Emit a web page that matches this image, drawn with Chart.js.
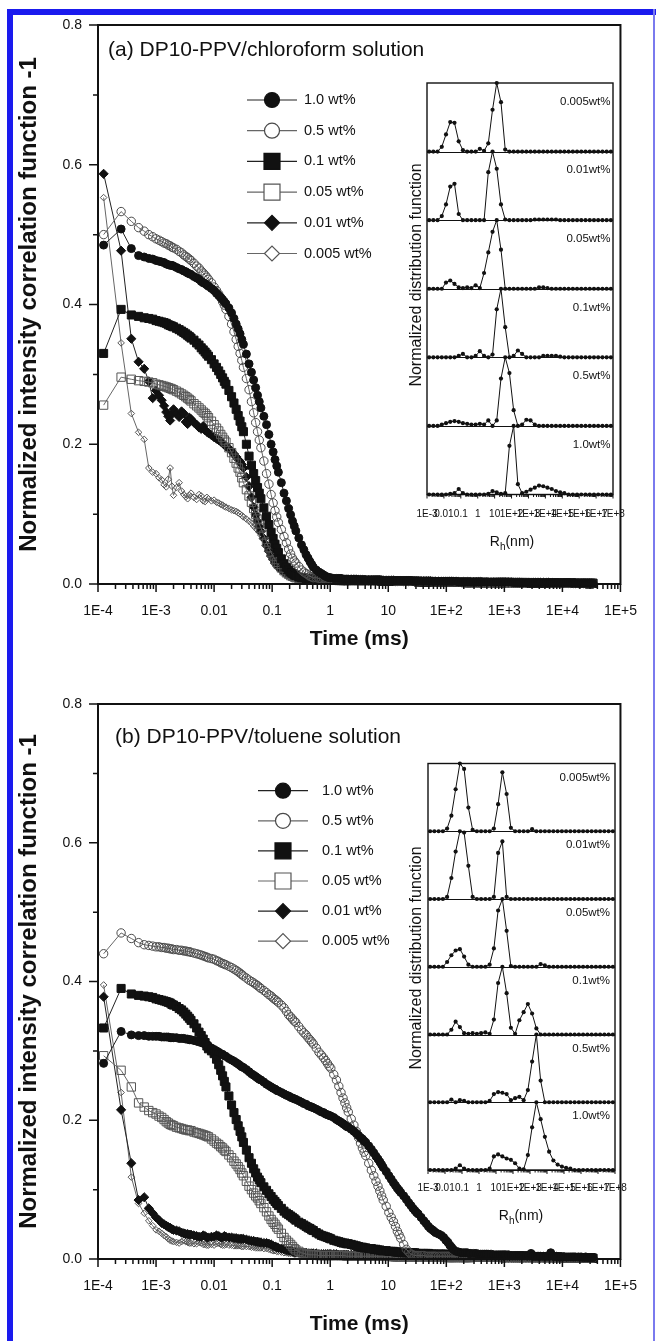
<!DOCTYPE html>
<html><head><meta charset="utf-8">
<script src="https://cdn.jsdelivr.net/npm/chart.js@4.4.1/dist/chart.umd.min.js"></script>
<style>
html,body{margin:0;padding:0;background:#fff;}
#page{position:relative;width:656px;height:1341px;overflow:hidden;background:#fff;}
.abs{position:absolute;}
</style></head>
<body><div id="page">
<div class="abs" style="left:7px;top:9px;width:6px;height:1332px;background:#1a1aee"></div>
<div class="abs" style="left:7px;top:9px;width:649px;height:6px;background:#1a1aee"></div>
<div class="abs" style="left:653px;top:9px;width:2px;height:1332px;background:#7a7aee"></div>
<canvas id="cA" class="abs" style="left:0;top:0"></canvas>
<canvas id="cB" class="abs" style="left:0;top:660px"></canvas>
<canvas id="iA" class="abs" style="left:380px;top:60px"></canvas>
<canvas id="iB" class="abs" style="left:380px;top:740px"></canvas>
</div>
<script>
// ---------------- data ----------------
// correlator lag times (ms): 16 linear channels, then 8 channels per octave
const TIME_MS = [1.25e-4,2.5e-4,3.75e-4,5e-4,6.25e-4,7.5e-4,8.75e-4,1e-3,1.125e-3,1.25e-3,1.375e-3,1.5e-3,1.625e-3,1.75e-3,1.875e-3,2e-3,
2.25e-3,2.5e-3,2.75e-3,3e-3,3.25e-3,3.5e-3,3.75e-3,4e-3,
4.5e-3,5e-3,5.5e-3,6e-3,6.5e-3,7e-3,7.5e-3,8e-3,
9e-3,.01,.011,.012,.013,.014,.015,.016,
.018,.02,.022,.024,.026,.028,.030,.032,
.036,.040,.044,.048,.052,.056,.060,.064,
.072,.080,.088,.096,.104,.112,.120,.128,
.144,.160,.176,.192,.208,.224,.240,.256,
.288,.320,.352,.384,.416,.448,.480,.512,
.576,.640,.704,.768,.832,.896,.960,1.024,
1.152,1.28,1.408,1.536,1.664,1.792,1.92,2.048,
2.304,2.56,2.816,3.072,3.328,3.584,3.84,4.096,
4.608,5.12,5.632,6.144,6.656,7.168,7.68,8.192,
9.216,10.24,11.26,12.29,13.31,14.34,15.36,16.38,
18.43,20.48,22.53,24.58,26.62,28.67,30.72,32.77,
36.86,40.96,45.06,49.15,53.25,57.34,61.44,65.54,
73.73,81.92,90.11,98.3,106.5,114.7,122.9,131.1,
147.5,163.8,180.2,196.6,213,229.4,245.8,262.1,
294.9,327.7,360.4,393.2,426,458.8,491.5,524.3,
589.8,655.4,720.9,786.4,851.9,917.5,983,1049,
1180,1311,1442,1573,1704,1835,1966,2097,
2359,2621,2884,3146,3408,3670,3932,4194,
4719,5243,5767,6291,6816,7340,7864,8389,
9437,10486,11534,12583,13631,14680,15729,16777,
18874,20972,23069,25166,27263,29360,31457,33554];

const SERIES_LABELS = ['1.0 wt%','0.5 wt%','0.1 wt%','0.05 wt%','0.01 wt%','0.005 wt%'];

// ---- (a) chloroform: long-time baselines (2.3 ms .. 33.5 s)
const TAIL_A1 = [.007,.007,.007,.006,.006,.006,.006,.006, .006,.006,.006,.006,.006,.006,.005,.005,
.005,.005,.005,.005,.005,.005,.005,.005, .005,.005,.005,.005,.004,.004,.004,.004,
.004,.004,.004,.004,.004,.004,.004,.004, .004,.004,.004,.004,.004,.004,.004,.004,
.004,.003,.003,.003,.003,.003,.003,.003, .003,.003,.003,.003,.003,.003,.003,.003,
.003,.003,.003,.003,.003,.003,.003,.003, .003,.003,.002,.002,.002,.002,.002,.002,
.002,.002,.002,.002,.002,.002,.002,.002, .002,.002,.002,.002,.002,.002,.002,.002,
.002,.002,.002,.002,.002,.001,.002,.001, .001,.001,.001,.001,.001,.001,.001,.001];
const TAIL_A2 = [.006,.006,.006,.006,.006,.006,.006,.005, .005,.005,.005,.005,.005,.005,.005,.005,
.005,.005,.005,.005,.004,.004,.004,.004, .004,.004,.004,.004,.004,.004,.004,.004,
.004,.004,.004,.004,.004,.003,.003,.003, .003,.003,.003,.003,.003,.003,.003,.003,
.003,.003,.003,.003,.003,.003,.003,.003, .003,.003,.003,.003,.002,.002,.002,.002,
.002,.002,.002,.002,.002,.002,.002,.002, .002,.002,.002,.002,.002,.002,.002,.002,
.002,.002,.002,.002,.002,.002,.002,.002, .002,.002,.002,.001,.002,.001,.001,.001,
.001,.001,.001,.001,.001,.001,.001,.001, .001,.001,.001,.001,.001,.001,.001,.001];
const TAIL_A3 = [.005,.005,.005,.005,.005,.005,.005,.005, .005,.005,.005,.005,.005,.005,.004,.004,
.004,.004,.004,.004,.004,.004,.004,.004, .004,.004,.004,.004,.004,.004,.004,.003,
.003,.003,.003,.003,.003,.003,.003,.003, .003,.003,.003,.003,.003,.003,.003,.003,
.003,.003,.003,.003,.002,.002,.002,.002, .002,.002,.002,.002,.002,.002,.002,.002,
.002,.002,.002,.002,.002,.002,.002,.002, .002,.002,.002,.002,.002,.002,.002,.002,
.002,.002,.001,.001,.001,.001,.001,.001, .001,.001,.001,.001,.001,.001,.001,.001,
.001,.001,.001,.001,.001,.001,.001,.001, .001,.001,.001,.001,.001,.000,.001,.001];

const A_10 = [.485,.508,.480,.470,.468,.466,.465,.463,.462,.461,.460,.458,.457,.456,.456,.455,
.453,.451,.450,.448,.447,.445,.444,.443,
.440,.438,.436,.433,.431,.430,.428,.426,
.423,.420,.416,.413,.410,.407,.404,.401,
.395,.388,.380,.372,.365,.358,.350,.343,
.329,.315,.303,.292,.281,.270,.261,.252,
.240,.228,.214,.200,.189,.178,.169,.160,
.145,.130,.119,.108,.099,.090,.083,.076,
.066,.056,.049,.042,.037,.032,.028,.024,
.020,.017,.015,.013,.011,.010,.009,.009,
.008,.008,.008,.008,.007,.007,.007,.007, ...TAIL_A1];
const A_05 = [.500,.533,.519,.510,.505,.500,.497,.494,.492,.490,.488,.487,.485,.484,.482,.481,
.479,.476,.474,.471,.469,.467,.465,.463,
.459,.455,.452,.448,.445,.442,.439,.436,
.431,.425,.420,.415,.410,.404,.399,.393,
.383,.372,.361,.350,.340,.330,.320,.310,
.294,.278,.261,.245,.231,.218,.206,.195,
.176,.158,.143,.128,.116,.105,.096,.088,
.078,.068,.059,.050,.043,.037,.033,.030,
.025,.020,.017,.015,.013,.011,.010,.009,
.009,.008,.008,.008,.007,.007,.007,.007,
.007,.007,.007,.007,.006,.006,.006,.006, ...TAIL_A2];
const A_01 = [.330,.393,.385,.383,.381,.380,.379,.377,.376,.375,.374,.373,.371,.370,.369,.368,
.366,.364,.362,.360,.358,.356,.354,.352,
.349,.345,.342,.338,.335,.332,.329,.326,
.321,.315,.310,.305,.300,.295,.290,.286,
.277,.268,.259,.250,.241,.233,.225,.218,
.200,.183,.170,.158,.148,.138,.130,.122,
.109,.097,.085,.074,.065,.057,.051,.045,
.036,.029,.024,.020,.017,.015,.013,.012,
.010,.009,.009,.008,.008,.007,.007,.007,
.007,.007,.006,.006,.006,.006,.006,.006,
.006,.006,.006,.006,.005,.005,.005,.005, ...TAIL_A3];
const A_005 = [.256,.296,.293,.291,.290,.289,.288,.286,.285,.284,.283,.282,.281,.280,.279,.278,
.276,.274,.272,.270,.268,.266,.264,.262,
.258,.255,.252,.249,.246,.244,.241,.238,
.233,.228,.223,.219,.214,.210,.206,.203,
.195,.188,.180,.173,.166,.160,.152,.145,
.135,.126,.117,.108,.100,.093,.086,.080,
.070,.060,.052,.045,.040,.035,.031,.028,
.023,.019,.016,.014,.012,.011,.010,.009,
.008,.008,.008,.007,.007,.007,.007,.007,
.007,.006,.006,.006,.006,.006,.006,.006,
.006,.006,.005,.005,.005,.005,.005,.005, ...TAIL_A3];
const A_001 = [.587,.477,.351,.318,.308,.290,.266,.277,.270,.263,.255,.246,.240,.234,.243,.250,
.244,.239,.247,.244,.232,.229,.238,.236,
.231,.228,.224,.222,.226,.220,.218,.216,
.213,.210,.208,.206,.204,.202,.199,.197,
.194,.190,.186,.182,.178,.175,.171,.166,
.153,.140,.124,.110,.099,.090,.082,.075,
.065,.055,.047,.040,.035,.030,.027,.024,
.020,.017,.015,.013,.012,.011,.010,.009,
.009,.008,.008,.008,.007,.007,.007,.007,
.007,.007,.006,.006,.006,.006,.006,.006,
.006,.006,.006,.006,.005,.005,.005,.005, ...TAIL_A2];
const A_0005 = [.553,.345,.244,.217,.207,.166,.160,.158,.152,.149,.142,.139,.150,.166,.140,.127,
.138,.145,.133,.128,.125,.122,.127,.130,
.124,.121,.128,.126,.119,.118,.124,.122,
.119,.120,.117,.116,.114,.113,.111,.110,
.108,.106,.105,.104,.102,.100,.098,.096,
.093,.090,.087,.083,.080,.077,.074,.070,
.064,.057,.051,.046,.041,.036,.033,.030,
.025,.020,.017,.014,.012,.011,.010,.009,
.009,.008,.008,.008,.007,.007,.007,.007,
.007,.006,.006,.006,.006,.006,.006,.006,
.006,.006,.006,.006,.006,.006,.005,.005, ...TAIL_A1];

// ---- (b) toluene: long-time baselines (295 ms .. 33.5 s)
const TAIL_B1 = [.008,.008,.007,.007,.007,.007,.007,.007,
.007,.006,.006,.006,.006,.006,.006,.006,
.006,.005,.005,.005,.005,.005,.005,.005,
.005,.005,.008,.004,.004,.004,.004,.004,
.004,.004,.004,.009,.004,.004,.004,.003,
.003,.003,.003,.003,.003,.003,.003,.003,
.003,.003,.002,.003,.002,.002,.002,.002];
const TAIL_B2 = [.005,.005,.005,.005,.005,.005,.005,.005,
.005,.005,.004,.004,.004,.004,.004,.004,
.004,.004,.004,.004,.004,.004,.004,.004,
.004,.003,.003,.003,.003,.003,.003,.003,
.003,.003,.003,.003,.003,.003,.003,.003,
.003,.002,.002,.002,.002,.002,.002,.002,
.002,.002,.002,.002,.002,.002,.002,.001];
const TAIL_B3 = [.003,.003,.003,.003,.003,.003,.003,.003,
.003,.003,.003,.003,.003,.002,.002,.002,
.002,.002,.002,.002,.002,.002,.002,.002,
.002,.002,.002,.002,.002,.002,.002,.002,
.002,.002,.002,.002,.002,.002,.002,.002,
.002,.002,.001,.001,.001,.001,.001,.001,
.001,.001,.001,.001,.001,.001,.001,.001];

const B_10 = [.282,.328,.323,.322,.322,.321,.321,.321,.321,.320,.320,.320,.320,.319,.319,.319,
.319,.318,.318,.318,.317,.317,.316,.316,
.315,.314,.313,.312,.311,.310,.309,.307,
.304,.302,.300,.298,.296,.295,.293,.292,
.289,.287,.285,.283,.281,.279,.277,.276,
.273,.270,.267,.265,.263,.261,.259,.258,
.255,.252,.250,.248,.246,.245,.243,.242,
.240,.238,.236,.235,.233,.232,.231,.230,
.228,.226,.224,.223,.221,.220,.219,.218,
.216,.214,.212,.211,.209,.208,.207,.206,
.204,.201,.199,.197,.195,.193,.191,.190,
.187,.184,.181,.178,.175,.173,.170,.168,
.163,.158,.153,.148,.144,.140,.136,.132,
.126,.120,.115,.110,.106,.102,.099,.096,
.091,.086,.081,.077,.073,.070,.067,.065,
.060,.055,.051,.047,.044,.042,.040,.038,
.036,.034,.031,.027,.024,.020,.017,.014,
.011,.010,.009,.009,.009,.009,.008,.008, ...TAIL_B1];
const B_05 = [.440,.470,.462,.456,.453,.452,.451,.450,.450,.449,.449,.448,.448,.447,.447,.446,
.446,.445,.445,.444,.444,.443,.443,.442,
.441,.440,.439,.438,.437,.436,.435,.434,
.433,.432,.430,.429,.427,.426,.425,.424,
.422,.420,.418,.416,.414,.412,.410,.408,
.405,.402,.400,.398,.396,.394,.392,.390,
.387,.384,.381,.379,.376,.374,.372,.370,
.366,.362,.357,.352,.349,.346,.343,.341,
.335,.330,.326,.323,.319,.316,.313,.310,
.304,.298,.294,.290,.286,.282,.278,.275,
.266,.258,.249,.240,.232,.225,.218,.212,
.202,.193,.184,.175,.167,.160,.154,.149,
.138,.128,.120,.112,.105,.098,.091,.085,
.076,.067,.060,.054,.047,.040,.035,.030,
.021,.014,.010,.007,.006,.005,.005,.005,
.005,.005,.004,.004,.004,.004,.004,.004,
.004,.004,.004,.004,.004,.004,.004,.004,
.004,.004,.004,.004,.003,.003,.003,.003, ...TAIL_B3];
const B_01 = [.333,.390,.382,.380,.379,.378,.377,.375,.374,.373,.372,.371,.370,.369,.367,.366,
.364,.361,.359,.356,.353,.350,.347,.344,
.339,.333,.327,.322,.317,.312,.307,.303,
.300,.296,.288,.280,.272,.264,.256,.248,
.235,.222,.211,.201,.192,.184,.176,.168,
.157,.146,.138,.130,.124,.118,.114,.110,
.104,.099,.094,.090,.086,.083,.080,.077,
.073,.069,.066,.064,.062,.060,.058,.056,
.053,.051,.049,.047,.045,.044,.042,.041,
.038,.036,.034,.033,.032,.031,.030,.029,
.027,.026,.025,.024,.023,.023,.022,.022,
.021,.020,.019,.018,.017,.017,.016,.016,
.015,.015,.014,.014,.013,.013,.012,.012,
.012,.011,.011,.011,.010,.010,.010,.010,
.009,.009,.009,.009,.009,.009,.008,.008,
.008,.008,.008,.008,.007,.007,.007,.007,
.007,.007,.007,.007,.006,.006,.006,.006,
.006,.006,.006,.006,.006,.006,.005,.005, ...TAIL_B2];
const B_005 = [.293,.272,.248,.225,.219,.214,.211,.209,.206,.204,.201,.198,.196,.194,.193,.192,
.190,.189,.188,.187,.186,.186,.185,.185,
.183,.182,.181,.180,.179,.178,.177,.176,
.173,.170,.167,.165,.162,.160,.157,.155,
.150,.146,.141,.137,.133,.129,.124,.120,
.112,.105,.100,.095,.091,.088,.084,.080,
.074,.068,.062,.057,.053,.050,.046,.043,
.037,.031,.027,.024,.021,.018,.015,.013,
.011,.009,.008,.007,.007,.006,.006,.006,
.006,.005,.005,.005,.005,.005,.005,.005,
.005,.005,.005,.005,.005,.005,.004,.004,
.004,.004,.004,.004,.004,.004,.004,.004,
.004,.004,.004,.004,.004,.004,.004,.004,
.004,.004,.004,.003,.003,.003,.003,.003,
.003,.003,.003,.003,.003,.003,.003,.003,
.003,.003,.003,.003,.003,.003,.003,.003,
.003,.003,.003,.003,.002,.002,.002,.002,
.002,.002,.002,.002,.002,.002,.002,.002, ...TAIL_B3];
const B_001 = [.378,.215,.138,.085,.089,.073,.066,.060,.056,.052,.050,.048,.046,.045,.043,.042,
.041,.040,.038,.037,.036,.036,.035,.035,
.034,.033,.032,.032,.034,.033,.031,.031,
.032,.032,.034,.033,.031,.031,.033,.032,
.031,.031,.030,.030,.029,.029,.029,.029,
.028,.027,.026,.026,.025,.025,.024,.024,
.023,.023,.022,.021,.019,.018,.017,.016,
.015,.014,.013,.012,.012,.011,.010,.010,
.010,.009,.009,.009,.008,.008,.008,.008,
.008,.007,.007,.007,.007,.007,.007,.007,
.007,.007,.006,.006,.006,.006,.006,.006,
.006,.006,.006,.006,.006,.006,.006,.005,
.005,.005,.005,.005,.005,.005,.005,.005,
.005,.005,.005,.005,.005,.005,.005,.005,
.005,.005,.004,.004,.004,.004,.004,.004,
.004,.004,.004,.004,.004,.004,.004,.004,
.004,.004,.004,.004,.004,.004,.004,.004,
.004,.004,.004,.003,.003,.003,.003,.003, ...TAIL_B3];
const B_0005 = [.395,.240,.118,.080,.066,.055,.048,.042,.040,.037,.034,.032,.029,.027,.026,.025,
.024,.023,.025,.027,.025,.024,.023,.023,
.022,.022,.024,.023,.021,.021,.020,.020,
.021,.020,.022,.023,.021,.020,.020,.021,
.020,.020,.019,.019,.019,.019,.018,.018,
.018,.018,.017,.017,.016,.016,.016,.016,
.015,.015,.014,.013,.012,.012,.011,.011,
.010,.009,.009,.008,.008,.008,.007,.007,
.007,.007,.006,.006,.006,.006,.006,.006,
.006,.006,.005,.005,.005,.005,.005,.005,
.005,.005,.005,.005,.005,.005,.005,.005,
.005,.005,.004,.004,.004,.004,.004,.004,
.004,.004,.004,.004,.004,.004,.004,.004,
.004,.004,.004,.004,.004,.004,.003,.003,
.003,.003,.003,.003,.003,.003,.003,.003,
.003,.003,.003,.003,.003,.003,.003,.003,
.003,.003,.003,.003,.003,.003,.003,.003,
.003,.003,.003,.003,.003,.003,.003,.003, ...TAIL_B3];

const X_TICK_VALUES = [1e-4,1e-3,1e-2,1e-1,1,10,100,1e3,1e4,1e5];
const X_TICK_LABELS = ['1E-4','1E-3','0.01','0.1','1','10','1E+2','1E+3','1E+4','1E+5'];
const Y_TICK_VALUES = [0,0.1,0.2,0.3,0.4,0.5,0.6,0.7,0.8];
const Y_TICK_LABELS = ['0.0','','0.2','','0.4','','0.6','','0.8'];

// insets: hydrodynamic radius grid (nm) and normalized distributions
const RH_NM = [0.00133,0.00237,0.00422,0.0075,
0.0133,0.0237,0.0422,0.075,
0.133,0.237,0.422,0.75,
1.33,2.37,4.22,7.5,
13.3,23.7,42.2,75,
133,237,422,750,
1330,2370,4220,7500,
13300,23700,42200,75000,
1.33e5,2.37e5,4.22e5,7.5e5,
1.33e6,2.37e6,4.22e6,7.5e6,
1.33e7,2.37e7,4.22e7,7.5e7];
const RH_TICK_VALUES = [1e-3,1e-2,1e-1,1,10,100,1e3,1e4,1e5,1e6,1e7,1e8];
const RH_TICK_LABELS = ['1E-3','0.01','0.1','1','10','1E+2','1E+3','1E+4','1E+5','1E+6','1E+7','1E+8'];
const INSET_LABELS = ['0.005wt%','0.01wt%','0.05wt%','0.1wt%','0.5wt%','1.0wt%'];

const IA_0005 = [0,0,0,.07, .25,.43,.42,.15, .02,0,0,0, .04,.01,.12,.61, 1,.72,.03,0, 0,0,0,0, 0,0,0,0, 0,0,0,0, 0,0,0,0, 0,0,0,0, 0,0,0,0];
const IA_001  = [0,0,0,.06, .23,.49,.53,.09, 0,0,0,0, 0,0,.7,1, .75,.23,.01,0, 0,0,0,0, 0,.01,.01,.01, .01,.01,.01,0, 0,0,0,0, 0,0,0,0, 0,0,0,0];
const IA_005  = [0,0,0,0, .09,.12,.07,.02, .01,.02,.01,.05, .01,.23,.53,.83, 1,.57,0,0, 0,0,0,0, 0,0,.02,.02, .01,0,0,0, 0,0,0,0, 0,0,0,0, 0,0,0,0];
const IA_01   = [0,0,0,0, 0,0,0,.02, .05,0,0,.02, .09,.02,0,.04, .7,1,.44,0, .02,.1,.05,0, 0,0,0,.02, .02,.02,.02,.01, 0,0,0,0, 0,0,0,0, 0,0,0,0];
const IA_05   = [0,0,0,.02, .04,.06,.07,.06, .04,.03,.02,.02, .03,.02,.08,0, .08,.69,1,.77, .23,0,.02,.09, .08,.02,0,0, 0,0,0,0, 0,0,0,0, 0,0,0,0, 0,0,0,0];
const IA_10   = [0,0,0,0, 0,.01,.02,.08, .02,0,0,0, 0,0,.01,.05, .03,.01,.02,.71, 1,.15,.02,.04, .07,.1,.13,.12, .1,.08,.05,.03, .02,0,0,0, 0,0,0,0, 0,0,0,0];

const IB_0005 = [0,0,0,0, .04,.23,.62,1, .92,.35,.02,0, 0,0,0,.04, .4,.87,.55,.05, 0,0,0,0, .03,0,0,0, 0,0,0,0, 0,0,0,0, 0,0,0,0, 0,0,0,0];
const IB_001  = [0,0,0,0, .03,.31,.7,1, .98,.49,.03,0, 0,0,0,.03, .68,.85,.03,0, 0,0,0,0, 0,0,0,0, 0,0,0,0, 0,0,0,0, 0,0,0,0, 0,0,0,0];
const IB_005  = [0,0,0,0, .07,.17,.24,.26, .15,.03,0,0, 0,0,.03,.27, .83,1,.53,.01, 0,0,0,0, 0,0,.04,.02, 0,0,0,0, 0,0,0,0, 0,0,0,0, 0,0,0,0];
const IB_01   = [0,0,0,0, 0,.07,.19,.11, .02,.01,.02,.01, .02,.03,.01,.22, .76,1,.61,.1, .01,.21,.33,.45, .31,.09,0,0, 0,0,0,0, 0,0,0,0, 0,0,0,0, 0,0,0,0];
const IB_05   = [0,0,0,0, 0,.04,0,.03, .02,0,0,0, 0,0,.02,.12, .15,.14,.12,.03, .06,.08,.03,.18, .6,1,.32,0, 0,0,0,0, 0,0,0,0, 0,0,0,0, 0,0,0,0];
const IB_10   = [0,0,0,0, 0,0,.02,.07, .02,0,0,0, 0,0,.02,.2, .23,.2,.17,.15, .1,.02,.01,.22, .63,1,.75,.49, .27,.14,.08,.05, .03,.02,0,0, 0,0,0,0, 0,0,0,0];

// ---------------- rendering ----------------
const FONT = "'Liberation Sans', Arial, Helvetica, sans-serif";
Chart.defaults.font.family = FONT;
Chart.defaults.color = '#111';

const MARK = [
  {style:'circle',  r:4,   lr:7.5,  fill:'#111', stroke:'#111', line:'#222', leg:'#111'},
  {style:'circle',  r:4.2, lr:7.5,  fill:'rgba(0,0,0,0)', stroke:'#4a4a4a', line:'#666', leg:'#fff'},
  {style:'rect',    r:5.7, lr:11.3, fill:'#111', stroke:'#111', line:'#222', leg:'#111'},
  {style:'rect',    r:5.9, lr:11.3, fill:'rgba(0,0,0,0)', stroke:'#555', line:'#666', leg:'#fff'},
  {style:'rectRot', r:4.6, lr:7.5,  fill:'#111', stroke:'#111', line:'#222', leg:'#111'},
  {style:'rectRot', r:3.3, lr:7.5,  fill:'rgba(0,0,0,0)', stroke:'#555', line:'#666', leg:'#fff'}
];

function lbl(values, labels, v) {
  for (let i = 0; i < values.length; i++) {
    if (Math.abs(v - values[i]) <= 1e-9 + Math.abs(values[i]) * 1e-6) return labels[i];
  }
  return '';
}
function logTicks(majors) {
  const out = [];
  for (let i = 0; i < majors.length; i++) {
    out.push(majors[i]);
    if (i < majors.length - 1) for (let m = 2; m <= 9; m++) out.push(majors[i] * m);
  }
  return out;
}
const X_ALL = logTicks(X_TICK_VALUES);
const RH_ALL = logTicks(RH_TICK_VALUES);

function drawMarker(ctx, style, r, x, y) {
  if (Chart.helpers && Chart.helpers.drawPoint) {
    Chart.helpers.drawPoint(ctx, {pointStyle: style, radius: r, rotation: 0, borderWidth: 1.2}, x, y);
    return;
  }
  ctx.beginPath();
  if (style === 'circle') ctx.arc(x, y, r, 0, Math.PI * 2);
  else if (style === 'rect') { const s = r * Math.SQRT1_2; ctx.rect(x - s, y - s, 2 * s, 2 * s); }
  else { ctx.moveTo(x - r, y); ctx.lineTo(x, y - r); ctx.lineTo(x + r, y); ctx.lineTo(x, y + r); ctx.closePath(); }
  ctx.fill(); ctx.stroke();
}

const mainDecor = {
  id: 'mainDecor',
  afterDraw(chart, args, o) {
    const ctx = chart.ctx, a = chart.chartArea, xs = chart.scales.x, ys = chart.scales.y;
    ctx.save();
    ctx.strokeStyle = '#111';
    ctx.lineWidth = 2;
    ctx.strokeRect(a.left, a.top, a.right - a.left, a.bottom - a.top);
    ctx.lineWidth = 1.5;
    ctx.beginPath();
    xs.ticks.forEach(t => {
      const p = xs.getPixelForValue(t.value), L = t.major ? 8 : 5;
      ctx.moveTo(p, a.bottom); ctx.lineTo(p, a.bottom + L);
    });
    ys.ticks.forEach(t => {
      const p = ys.getPixelForValue(t.value), L = t.major ? 9 : 5;
      ctx.moveTo(a.left, p); ctx.lineTo(a.left - L, p);
    });
    ctx.stroke();
    ctx.fillStyle = '#111';
    ctx.font = '21px ' + FONT;
    ctx.textAlign = 'left'; ctx.textBaseline = 'middle';
    ctx.fillText(o.title, o.titleX, o.titleY);
    chart.data.datasets.forEach((ds, i) => {
      const y = o.legY0 + i * o.legDy, m = MARK[i];
      ctx.strokeStyle = m.line; ctx.lineWidth = 1.2;
      ctx.beginPath(); ctx.moveTo(o.legX0, y); ctx.lineTo(o.legX1, y); ctx.stroke();
      ctx.fillStyle = m.leg; ctx.strokeStyle = m.stroke; ctx.lineWidth = 1.2;
      drawMarker(ctx, m.style, m.lr, (o.legX0 + o.legX1) / 2, y);
      ctx.fillStyle = '#111';
      ctx.font = '14.5px ' + FONT;
      ctx.textAlign = 'left'; ctx.textBaseline = 'middle';
      ctx.fillText(ds.label, o.legTextX, y);
    });
    ctx.restore();
  }
};

function mainChart(id, w, h, series, c) {
  const cv = document.getElementById(id);
  cv.width = w; cv.height = h;
  const datasets = series.map((ys, i) => ({
    label: SERIES_LABELS[i],
    data: TIME_MS.map((t, j) => ({x: t, y: ys[j]})).filter(p => p.y !== undefined),
    showLine: true, borderColor: MARK[i].line, borderWidth: 1, tension: 0, fill: false,
    pointStyle: MARK[i].style, pointRadius: MARK[i].r,
    pointBackgroundColor: MARK[i].fill, pointBorderColor: MARK[i].stroke, pointBorderWidth: 1,
    clip: false
  }));
  return new Chart(cv, {
    type: 'line',
    data: {datasets},
    options: {
      responsive: false, animation: false, devicePixelRatio: 1,
      layout: {padding: {left: 0, right: w - c.right, top: c.top, bottom: 0}},
      plugins: {legend: {display: false}, tooltip: {enabled: false}, mainDecor: c},
      scales: {
        x: {
          type: 'logarithmic', min: 1e-4, max: 1e5,
          grid: {display: false, drawTicks: false}, border: {display: false},
          afterBuildTicks: s => { s.ticks = X_ALL.map(v => ({value: v, major: lbl(X_TICK_VALUES, X_TICK_LABELS, v) !== ''})); },
          afterFit: s => { s.height = h - c.bottom; },
          ticks: {autoSkip: false, maxRotation: 0, minRotation: 0, padding: c.xLabelPad,
                  font: {size: 14}, color: '#111',
                  callback: v => lbl(X_TICK_VALUES, X_TICK_LABELS, v)},
          title: {display: true, text: 'Time (ms)', font: {size: 21, weight: 'bold'}, color: '#111',
                  padding: {top: 0, bottom: c.xTitlePad}}
        },
        y: {
          type: 'linear', min: 0, max: 0.8,
          grid: {display: false, drawTicks: false}, border: {display: false},
          afterBuildTicks: s => { s.ticks = Y_TICK_VALUES.map((v, i) => ({value: v, major: Y_TICK_LABELS[i] !== ''})); },
          afterFit: s => { s.width = c.left; },
          ticks: {padding: c.yLabelPad, font: {size: 14}, color: '#111',
                  callback: v => lbl(Y_TICK_VALUES, Y_TICK_LABELS, v)},
          title: {display: true, text: 'Normalized intensity correlation function -1',
                  font: {size: 24, weight: 'bold'}, color: '#111', padding: {top: c.yTitlePad, bottom: 0}}
        }
      }
    },
    plugins: [mainDecor]
  });
}

const insetDecor = {
  id: 'insetDecor',
  afterDraw(chart, args, o) {
    const ctx = chart.ctx, a = chart.chartArea, xs = chart.scales.x;
    ctx.save();
    ctx.strokeStyle = '#111';
    ctx.lineWidth = 1;
    ctx.beginPath();
    chart.data.datasets.forEach(ds => {
      const s = chart.scales[ds.yAxisID];
      const p = Math.round(s.getPixelForValue(0)) + 0.5;
      ctx.moveTo(a.left, p); ctx.lineTo(a.right, p);
    });
    ctx.stroke();
    ctx.lineWidth = 1.4;
    ctx.strokeRect(a.left, a.top, a.right - a.left, a.bottom - a.top);
    ctx.lineWidth = 1;
    ctx.beginPath();
    xs.ticks.forEach(t => {
      const p = xs.getPixelForValue(t.value), L = t.major ? 4 : 2.5;
      ctx.moveTo(p, a.bottom); ctx.lineTo(p, a.bottom + L);
    });
    ctx.stroke();
    ctx.fillStyle = '#111';
    ctx.font = '11.5px ' + FONT;
    ctx.textAlign = 'right'; ctx.textBaseline = 'middle';
    chart.data.datasets.forEach(ds => {
      const s = chart.scales[ds.yAxisID];
      ctx.fillText(ds.label, a.right - o.labelDx, s.top + o.labelDy);
    });
    ctx.save();
    ctx.translate(o.yTitleX, o.yTitleY);
    ctx.rotate(-Math.PI / 2);
    ctx.font = '16px ' + FONT;
    ctx.textAlign = 'center'; ctx.textBaseline = 'middle';
    ctx.fillText('Normalized distribution function', 0, 0);
    ctx.restore();
    ctx.textBaseline = 'alphabetic'; ctx.textAlign = 'left';
    const big = '14px ' + FONT, small = '10px ' + FONT;
    ctx.font = big; const wR = ctx.measureText('R').width, wN = ctx.measureText('(nm)').width;
    ctx.font = small; const wH = ctx.measureText('h').width;
    let x = o.rhX - (wR + wH + wN) / 2;
    ctx.font = big; ctx.fillText('R', x, o.rhY); x += wR;
    ctx.font = small; ctx.fillText('h', x, o.rhY + 3.5); x += wH;
    ctx.font = big; ctx.fillText('(nm)', x, o.rhY);
    ctx.restore();
  }
};

function insetChart(id, w, h, dists, c) {
  const cv = document.getElementById(id);
  cv.width = w; cv.height = h;
  const datasets = dists.map((vals, i) => ({
    label: INSET_LABELS[i], yAxisID: 'y' + i,
    data: RH_NM.map((r, j) => ({x: r, y: vals[j]})),
    showLine: true, borderColor: '#111', borderWidth: 1, tension: 0, fill: false,
    pointStyle: 'circle', pointRadius: 2.1, pointBackgroundColor: '#111', pointBorderWidth: 0,
    clip: false
  }));
  const scales = {
    x: {
      type: 'logarithmic', min: 1e-3, max: 1e8,
      grid: {display: false, drawTicks: false}, border: {display: false},
      afterBuildTicks: s => { s.ticks = RH_ALL.map(v => ({value: v, major: lbl(RH_TICK_VALUES, RH_TICK_LABELS, v) !== ''})); },
      afterFit: s => { s.height = h - c.bottom; },
      ticks: {autoSkip: false, maxRotation: 0, minRotation: 0, padding: c.xLabelPad,
              font: {size: 10}, color: '#111',
              callback: v => lbl(RH_TICK_VALUES, RH_TICK_LABELS, v)}
    }
  };
  dists.forEach((_, i) => {
    scales['y' + i] = {type: 'linear', position: 'left', stack: 'dist', stackWeight: 1,
                       weight: dists.length - i, min: 0, max: 1, display: false};
  });
  return new Chart(cv, {
    type: 'line',
    data: {datasets},
    options: {
      responsive: false, animation: false, devicePixelRatio: 1,
      layout: {padding: {left: c.left, right: w - c.right, top: c.top, bottom: 0}},
      plugins: {legend: {display: false}, tooltip: {enabled: false}, insetDecor: c},
      scales
    },
    plugins: [insetDecor]
  });
}

mainChart('cA', 656, 660, [A_10, A_05, A_01, A_005, A_001, A_0005], {
  left: 98, right: 636, top: 25, bottom: 584,
  xLabelPad: 19, xTitlePad: 8, yLabelPad: 16, yTitlePad: 14.6,
  title: '(a) DP10-PPV/chloroform solution', titleX: 108, titleY: 50,
  legX0: 247, legX1: 297, legTextX: 304, legY0: 100, legDy: 30.7
});
mainChart('cB', 656, 681, [B_10, B_05, B_01, B_005, B_001, B_0005], {
  left: 98, right: 636, top: 44, bottom: 599,
  xLabelPad: 19, xTitlePad: 4, yLabelPad: 16, yTitlePad: 14.6,
  title: '(b) DP10-PPV/toluene solution', titleX: 115, titleY: 77,
  legX0: 258, legX1: 308, legTextX: 322, legY0: 130.7, legDy: 30.1
});
insetChart('iA', 260, 500, [IA_0005, IA_001, IA_005, IA_01, IA_05, IA_10], {
  left: 47, right: 233, top: 23, bottom: 434.5, xLabelPad: 13.5,
  labelDx: 2.5, labelDy: 18.7, yTitleX: 37, yTitleY: 215, rhX: 132, rhY: 486
});
insetChart('iB', 260, 500, [IB_0005, IB_001, IB_005, IB_01, IB_05, IB_10], {
  left: 48, right: 235, top: 23.5, bottom: 430, xLabelPad: 12,
  labelDx: 5, labelDy: 14, yTitleX: 37, yTitleY: 218, rhX: 141, rhY: 480
});
</script>
</body></html>
